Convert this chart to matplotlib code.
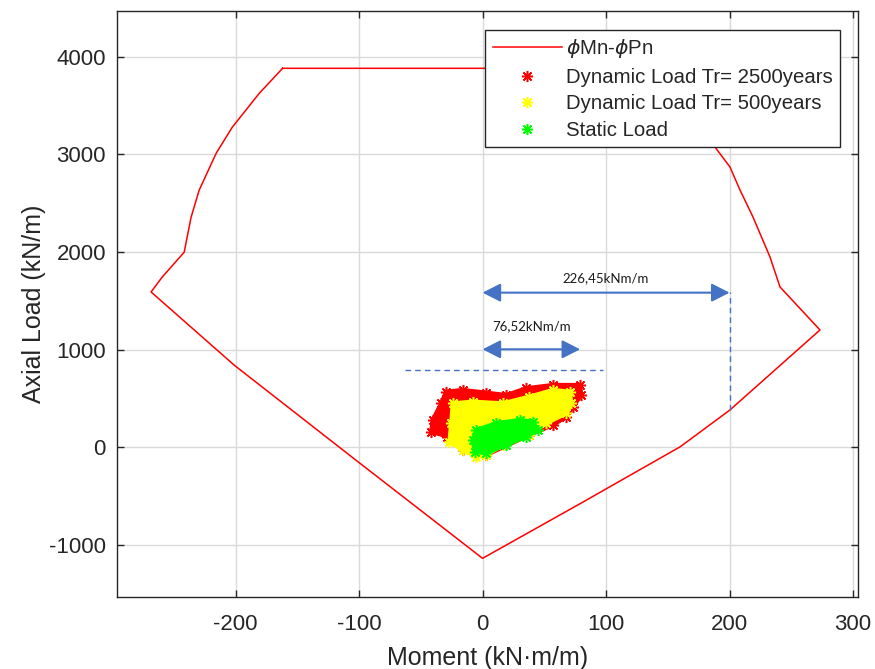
import matplotlib
matplotlib.use("Agg")
import matplotlib.pyplot as plt

plt.rcParams['font.family'] = ['Liberation Sans', 'DejaVu Sans']
plt.rcParams['axes.unicode_minus'] = False

# Interaction diagram (phi Mn - phi Pn)
curve_M = [-161.9, -180.8, -202.7, -215.7, -229.5, -236.0, -241.6, -259.5, -268.4,
           -201.0, -101.0, 0.0, 80.0, 160.0, 200.3, 273.2, 240.8, 232.7, 218.9,
           208.4, 200.3, 188.1, 170.0, 150.0, 125.0, -161.9]
curve_P = [3880, 3624, 3276, 3010, 2631, 2355, 1997, 1741, 1590,
           840, -147, -1137, -570, 5, 382, 1201, 1642, 1949, 2359,
           2635, 2870, 3075, 3330, 3600, 3880, 3880]

# Load clouds (outline samples, in order around each cloud)
red_M = [-41.6, -40.3, -33.5, -29.4, -16.0, 3.0, 19.2, 35.4, 57.0, 78.6, 80.0, 73.2,
         67.9, 57.0, 37.9, 3.0, -16.0, -28.4]
red_P = [160, 280, 450, 569, 587, 559, 535, 604, 638, 638, 535, 416,
         313, 228, 126, -79, -27, 109]

yel_M = [-24.1, -7.9, 16.5, 37.9, 57.0, 70.5, 71.9, 67.9, 51.6, 37.9, 16.5, 3.0,
         -5.1, -16.0, -26.8, -25.4]
yel_P = [450, 467, 450, 518, 587, 569, 450, 348, 246, 126, 24, -79,
         -96, -27, 57, 246]

grn_M = [-5.1, 11.1, 30.0, 40.8, 44.8, 35.4, 19.2, 3.0, -6.5, -7.9]
grn_P = [177, 246, 280, 262, 177, 109, 24, -61, -45, 75]

# Annotations
dim_large = [0, 200]
dim_large_P = 1583
dim_large_label = "226,45kNm/m"
dim_large_text_P = 1692
dim_small = [0, 79]
dim_small_P = 1003
dim_small_label = "76,52kNm/m"
dim_small_text_P = 1201
hline_M = [-62.4, 97.6]
hline_P = 791
vline_M = 200.3
vline_P = [382, 1593]

legend_labels = [r"$\phi$Mn-$\phi$Pn", "Dynamic Load Tr= 2500years",
                 "Dynamic Load Tr= 500years", "Static Load"]

fig = plt.figure(figsize=(8.75, 6.69), dpi=100)
ax = fig.add_axes([0.1337, 0.1076, 0.8469, 0.876])

ax.set_xlim(-296, 304)
ax.set_ylim(-1533, 4467)
ax.set_xticks([-200, -100, 0, 100, 200, 300])
ax.set_yticks([-1000, 0, 1000, 2000, 3000, 4000])
ax.grid(True, color='#dadada', linewidth=1.0)
ax.set_axisbelow(True)

for s in ax.spines.values():
    s.set_color('#262626')
    s.set_linewidth(1.0)
ax.tick_params(direction='in', length=5, width=1, color='#262626',
               labelsize=16, labelcolor='#262626', top=True, right=True)
ax.tick_params(axis='y', pad=8)
ax.tick_params(axis='x', pad=12)

ax.plot(curve_M, curve_P, color='#ff0000', linewidth=1.1, label=legend_labels[0], zorder=3)

ast = (8, 2, 0)
for mx, py, col, lab in [(red_M, red_P, '#ff0000', legend_labels[1]),
                         (yel_M, yel_P, '#ffff00', legend_labels[2]),
                         (grn_M, grn_P, '#00ff00', legend_labels[3])]:
    ax.fill(mx, py, color=col, edgecolor=col, linewidth=3, zorder=4)
    ax.plot(mx, py, ls='none', marker=ast, markersize=8, markeredgewidth=1.1,
            color=col, label=lab, zorder=4)

blue = '#4472c4'
ax.plot(hline_M, [hline_P, hline_P], color=blue, ls=(0, (4, 3)), linewidth=1.0, zorder=5)
ax.plot([vline_M, vline_M], vline_P, color=blue, ls=(0, (4, 3)), linewidth=1.0, zorder=5)

for (m0, m1), p, tp, lab in [(dim_large, dim_large_P, dim_large_text_P, dim_large_label),
                              (dim_small, dim_small_P, dim_small_text_P, dim_small_label)]:
    ax.annotate('', xy=(m1, p), xytext=(m0, p),
                arrowprops=dict(arrowstyle='<|-|>,head_length=0.55,head_width=0.28',
                                color=blue, lw=1.5, shrinkA=0, shrinkB=0,
                                mutation_scale=20), zorder=6)
    ax.text((m0 + m1) / 2, tp, lab, ha='center', va='baseline',
            fontsize=9.5, family=['Lato', 'DejaVu Sans'], color='#1a1a1a', zorder=6)

ax.set_xlabel("Moment (kN\u00b7m/m)", fontsize=18, color='#262626', labelpad=8.5)
ax.set_ylabel("Axial Load (kN/m)", fontsize=18, color='#262626', labelpad=2)

leg = ax.legend(loc='upper right', bbox_to_anchor=(0.9757, 0.9676), borderaxespad=0,
                fontsize=14.7, frameon=True, fancybox=False, framealpha=1,
                edgecolor='#262626', handlelength=3.4, handletextpad=0.2,
                labelspacing=0.37, borderpad=0.35, numpoints=1)
leg.get_frame().set_linewidth(1.0)
leg.set_zorder(10)
for t in leg.get_texts():
    t.set_color('#262626')

fig.savefig('out.png', dpi=100)
